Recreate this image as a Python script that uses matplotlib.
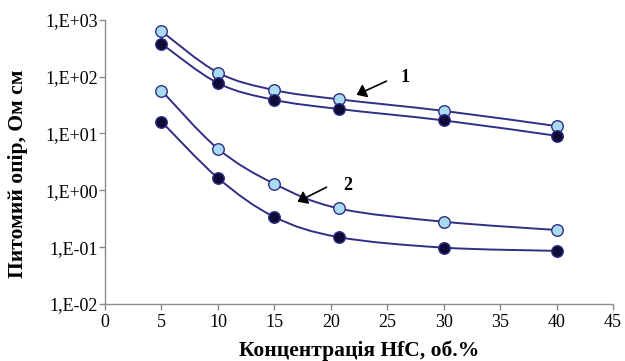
import numpy as np
import matplotlib
matplotlib.use("Agg")
import matplotlib.pyplot as plt
from matplotlib.path import Path
from matplotlib.patches import PathPatch
from matplotlib.ticker import FixedLocator, FuncFormatter, NullLocator

OUT = "out.png"

conc = [5, 10, 15, 20.7, 30, 40]
rho_1_light = [630, 118, 58, 40, 25, 13.5]
rho_1_dark = [380, 77, 39, 27, 17, 9.1]
rho_2_light = [57, 5.4, 1.3, 0.48, 0.28, 0.20]
rho_2_dark = [16.2, 1.65, 0.34, 0.15, 0.098, 0.086]

y_ticks = [1e-2, 1e-1, 1e0, 1e1, 1e2, 1e3]
x_ticks = list(range(0, 50, 5))

LINE = "#2f2f86"
LIGHT = "#a9dcf0"
DARK = "#0e0b36"
SERIF = ["Liberation Serif", "DejaVu Serif"]


def smooth_path(x, y):
    # Catmull-Rom style bezier in (x, log y), like spreadsheet "smoothed" lines
    ly = np.log10(y)
    pts = np.column_stack([x, ly])
    verts = [pts[0]]
    codes = [Path.MOVETO]
    n = len(pts)
    for i in range(n - 1):
        p0 = pts[i - 1] if i > 0 else pts[i]
        p1 = pts[i]
        p2 = pts[i + 1]
        p3 = pts[i + 2] if i + 2 < n else pts[i + 1]
        c1 = p1 + (p2 - p0) / 6
        c2 = p2 - (p3 - p1) / 6
        verts += [c1, c2, p2]
        codes += [Path.CURVE4] * 3
    verts = np.array(verts)
    verts[:, 1] = 10 ** verts[:, 1]
    return Path(verts, codes)


def main():
    fig = plt.figure(figsize=(6.25, 3.61), dpi=100)
    ax = fig.add_axes([0.168, 0.158, 0.813, 0.787])
    ax.set_yscale("log")
    ax.set_xlim(0, 45)
    ax.set_ylim(1e-2, 1e3)

    for ys, fc in [(rho_1_light, LIGHT), (rho_1_dark, DARK),
                   (rho_2_light, LIGHT), (rho_2_dark, DARK)]:
        ax.add_patch(PathPatch(smooth_path(conc, ys), fill=False,
                               edgecolor=LINE, lw=1.4, zorder=2))
        ax.plot(conc, ys, linestyle="none", marker="o", markersize=8.3,
                markerfacecolor=fc, markeredgecolor=LINE,
                markeredgewidth=1.0, zorder=3, clip_on=False)

    # curve labels with arrows
    ax.annotate("", xy=(354, 361 - 96), xytext=(389, 361 - 80),
                xycoords="figure pixels", textcoords="figure pixels",
                arrowprops=dict(arrowstyle="-|>,head_width=0.3", color="black",
                                lw=1.2, mutation_scale=14))
    fig.text(405, 361 - 77, "1", ha="center", va="center", fontsize=13,
             fontweight="bold", family=SERIF, transform=None)
    ax.annotate("", xy=(295, 361 - 203), xytext=(329, 361 - 186),
                xycoords="figure pixels", textcoords="figure pixels",
                arrowprops=dict(arrowstyle="-|>,head_width=0.3", color="black",
                                lw=1.2, mutation_scale=14))
    fig.text(348, 361 - 185, "2", ha="center", va="center", fontsize=13,
             fontweight="bold", family=SERIF, transform=None)

    ax.yaxis.set_major_locator(FixedLocator(y_ticks))
    ax.yaxis.set_minor_locator(NullLocator())
    ax.yaxis.set_major_formatter(FuncFormatter(
        lambda v, p: "1,E%+03d" % int(round(np.log10(v)))))
    ax.set_xticks(x_ticks)

    for side in ["top", "right"]:
        ax.spines[side].set_visible(False)
    for side in ["left", "bottom"]:
        ax.spines[side].set_color("#8c8c8c")
        ax.spines[side].set_linewidth(1.0)
    ax.tick_params(direction="out", length=4, color="#8c8c8c", width=1.0,
                   labelsize=13)
    ax.tick_params(axis="y", pad=1)
    ax.tick_params(axis="x", pad=3)
    for lab in ax.get_xticklabels() + ax.get_yticklabels():
        lab.set_family(SERIF)

    ax.set_xlabel("Концентрація HfC, об.%", family=SERIF, fontsize=15.5,
                  fontweight="bold", labelpad=7)
    ax.set_ylabel("Питомий опір, Ом см", family=SERIF, fontsize=15.5,
                  fontweight="bold")
    ax.yaxis.set_label_coords(-0.152, 0.46)

    fig.savefig(OUT, dpi=100)
    plt.close(fig)


if __name__ == "__main__":
    main()
